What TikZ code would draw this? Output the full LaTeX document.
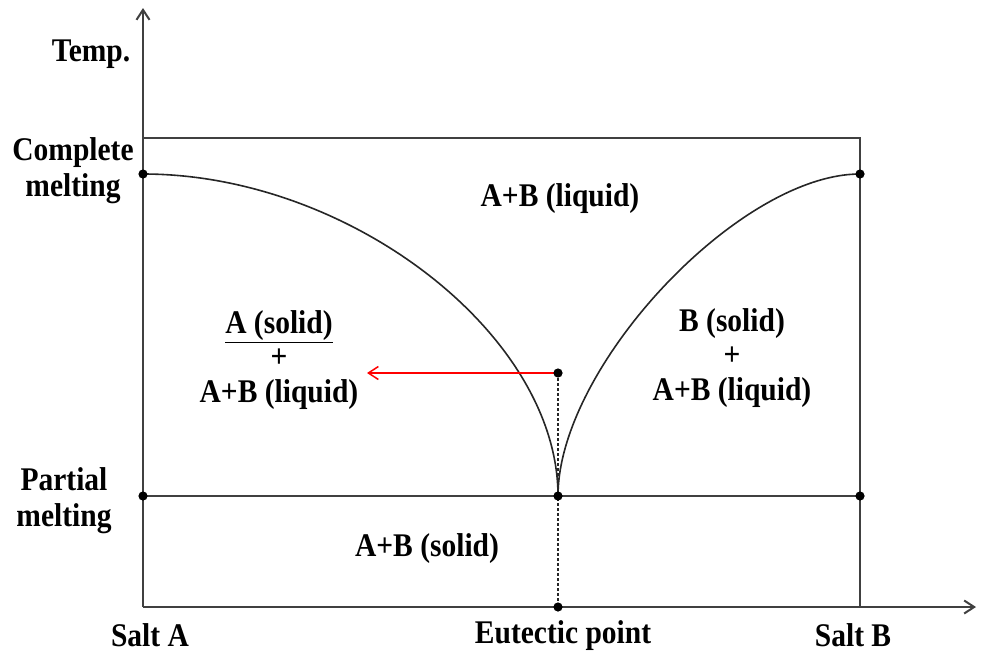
\documentclass[tikz,border=0pt]{standalone}
\usepackage{fontspec}
\setmainfont{Liberation Serif}
\usetikzlibrary{arrows.meta}

\begin{document}
\begin{tikzpicture}[x=1pt, y=-1pt,
	every node/.style={font=\fontsize{29.5}{32}\selectfont\bfseries, align=center, yscale=1.12},
	>={Straight Barb[length=10pt,width=13pt]},
	frame/.style={draw=black!75, line width=2pt},
	curve/.style={draw=black!85, line width=1.6pt},
	region/.style={font=\fontsize{29.5}{30.5}\selectfont\bfseries}]
	\useasboundingbox (0,0) rectangle (984,656);
	% key points of the diagram
	\coordinate (origin) at (143,607);
	\coordinate (ytip) at (143,8);
	\coordinate (xtip) at (976,607);
	\coordinate (topL) at (143,138);
	\coordinate (botR) at (860,607);
	\coordinate (meltA) at (143,174);
	\coordinate (meltB) at (860,174);
	\coordinate (partA) at (143,496);
	\coordinate (eut) at (558,496);
	\coordinate (partB) at (860,496);
	\coordinate (eutAxis) at (558,607);
	\coordinate (lever) at (558,373);
	\coordinate (leverEnd) at (367,373);
	% axes and frame
	\draw[frame, ->] (origin) -- (ytip);
	\draw[frame, ->] (origin) -- (xtip);
	\draw[frame] (topL) -| (botR);
	\draw[frame] (partA) -- (eut) -- (partB);
	% liquidus curves
	\draw[curve] (meltA) .. controls (350,174) and (558,335) .. (eut);
	\draw[curve] (eut) .. controls (558,367) and (739,174) .. (meltB);
	\draw[black!85, line width=1.4pt, dash pattern=on 3pt off 2pt] (lever) -- (eutAxis);
	\draw[red, line width=1.5pt, ->] (lever) -- (leverEnd);
	\foreach \p in {meltA, meltB, partA, eut, partB, eutAxis, lever}
		\fill (\p) circle (4.6pt);
	% labels
	\node (temp) at (91,54) {Temp.};
	\node (complete) at (73,171) {Complete\\melting};
	\node (partial) at (64,501) {Partial\\melting};
	\node (saltA) at (150,635) {Salt A};
	\node (eutPoint) at (563,636) {Eutectic point};
	\node (saltB) at (853,635) {Salt B};
	\node (liquid) at (560,199) {A+B (liquid)};
	\node[region] (regionA) at (279,360) {\underline{A (solid)}\\+\\A+B (liquid)};
	\node[region] (regionB) at (732,358) {B (solid)\\+\\A+B (liquid)};
	\node (solid) at (427,549) {A+B (solid)};
\end{tikzpicture}
\end{document}
